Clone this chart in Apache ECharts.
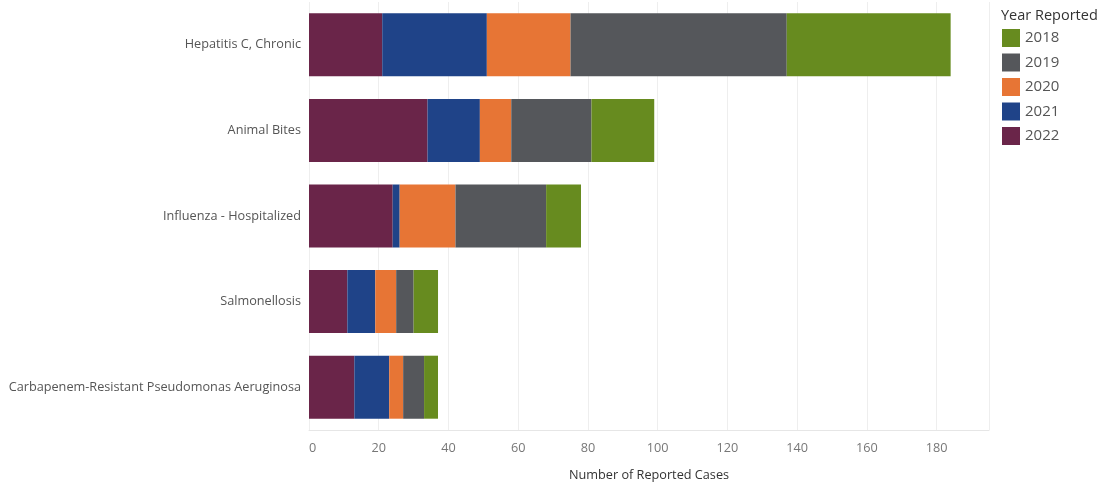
<!DOCTYPE html>
<html><head><meta charset="utf-8">
<script src="https://cdn.jsdelivr.net/npm/echarts@6/dist/echarts.min.js"></script>
<style>html,body{margin:0;padding:0;background:#fff}#c{width:1107px;height:485px}</style>
</head><body><div id="c"></div>
<script>
const categories = ['Hepatitis C, Chronic','Animal Bites','Influenza - Hospitalized','Salmonellosis','Carbapenem-Resistant Pseudomonas Aeruginosa'];
const years = ['2022','2021','2020','2019','2018'];
const legendOrder = ['2018','2019','2020','2021','2022'];
const v2022 = [21, 34, 24, 11, 13];
const v2021 = [30, 15, 2, 8, 10];
const v2020 = [24, 9, 16, 6, 4];
const v2019 = [62, 23, 26, 5, 6];
const v2018 = [47, 18, 10, 7, 4];
const colors = {'2022':'#6a2549','2021':'#1f4388','2020':'#e77535','2019':'#55575b','2018':'#678b1f'};
const values = {'2022':v2022,'2021':v2021,'2020':v2020,'2019':v2019,'2018':v2018};
const font = '"Open Sans", "Noto Sans", sans-serif';
const chart = echarts.init(document.getElementById('c'));
chart.setOption({
  animation:false,
  textStyle:{fontFamily:font},
  title:{text:'Year Reported',left:1001,top:8,padding:0,textStyle:{fontSize:14.5,fontWeight:'normal',color:'#333',fontFamily:font}},
  legend:{data:legendOrder,orient:'vertical',left:1002,top:29,padding:0,icon:'rect',itemWidth:18,itemHeight:18,itemGap:6.5,
    textStyle:{fontSize:15,color:'#555',fontFamily:font,padding:[0,0,0,0]}},
  grid:{left:309,right:118,top:2,bottom:55,containLabel:false,outerBoundsMode:'none'},
  xAxis:{type:'value',min:0,max:195,interval:20,
    name:'Number of Reported Cases',nameLocation:'middle',nameGap:39,
    nameTextStyle:{fontSize:12.7,color:'#333',fontFamily:font},
    axisLine:{show:true,lineStyle:{color:'#e6e6e6'}},axisTick:{show:false},
    axisLabel:{showMaxLabel:false,alignMinLabel:'left',color:'#777',fontSize:12.7,margin:12,fontFamily:font},
    splitLine:{show:true,lineStyle:{color:'#eeeeee'}}},
  yAxis:{type:'category',data:categories,inverse:true,
    axisLine:{show:false},axisTick:{show:false},
    axisLabel:{color:'#555',fontSize:12.7,margin:8,fontFamily:font}},
  series: years.map(y=>({name:y,type:'bar',stack:'total',data:values[y],barWidth:63,
    itemStyle:{color:colors[y]}}))
});
</script></body></html>
